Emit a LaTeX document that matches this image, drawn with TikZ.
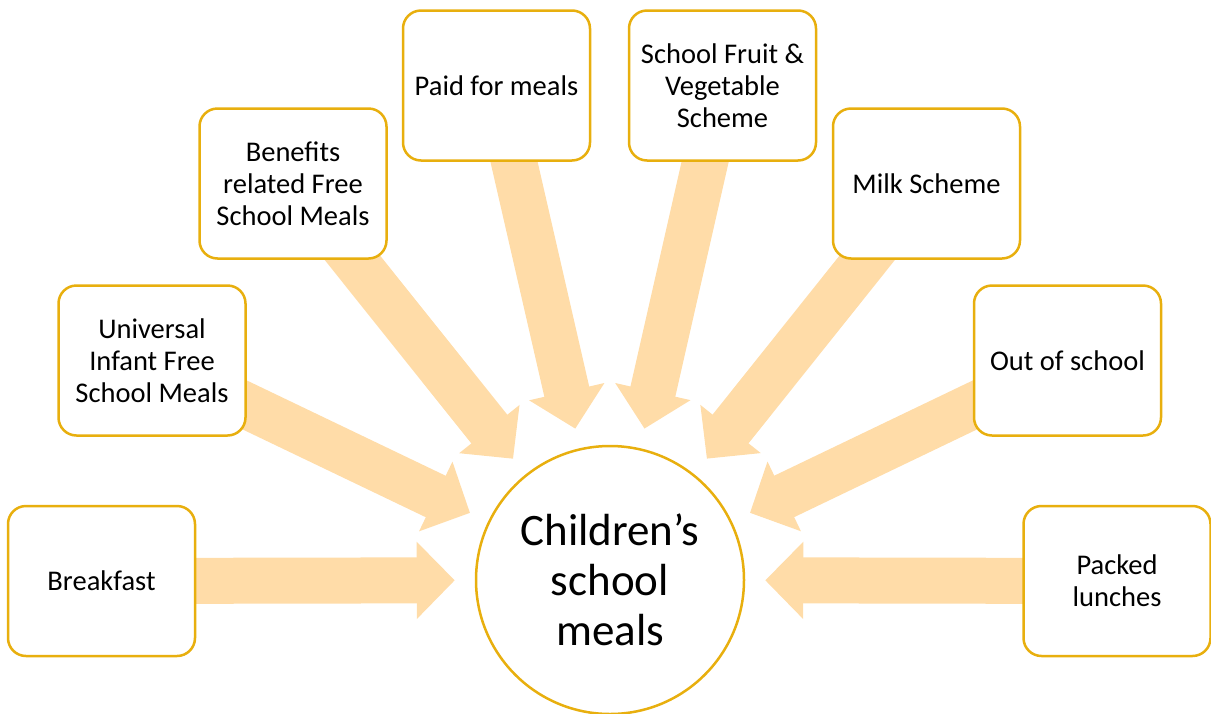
\documentclass[tikz,border=0pt]{standalone}
\usepackage{fontspec}
\setmainfont{Carlito}
\usepackage{xcolor}
\usetikzlibrary{
	positioning,						% Relative positioning
	arrows.meta,						% Block arrow heads
	backgrounds							% Arrows behind the boxes
}
\definecolor{meals-gold}{RGB}{232,175,14}
\definecolor{meals-peach}{RGB}{255,220,168}

\begin{document}
\begin{tikzpicture}[x=1pt, y=-1pt]
		\tikzstyle{source} = [draw=meals-gold, line width=2.5pt, fill=white, rounded corners=18pt, minimum width=187pt, minimum height=150pt, align=center, font=\fontsize{28.5}{32}\selectfont]
		\tikzstyle{hub} = [draw=meals-gold, line width=2.5pt, fill=white, circle, minimum size=268pt, inner sep=0pt, align=center, font=\fontsize{45}{50}\selectfont]
		\tikzstyle{feed} = [meals-peach, line width=46pt, -{Triangle[width=75pt, length=38pt]}, shorten >=20pt]
		
		\useasboundingbox (0,0) rectangle (1211,713);
		
		% Centre
		\node[hub] at (610,580) (meals) {Children’s\\school\\meals};
		
		% Sources
		\foreach \name/\x/\y/\elem in {breakfast/101.5/581/{Breakfast}, universal/152/360.5/{Universal\\Infant Free\\School Meals}, benefits/293/183.5/{Benefits\\related Free\\School Meals}, paid/496.5/85.5/{Paid for meals}, fruit/722.5/85.5/{School Fruit \&\\Vegetable\\Scheme}, milk/926.5/183.5/{Milk Scheme}, outOfSchool/1067.5/360.5/{Out of school}, packed/1117/581/{Packed\\lunches}}{
			\node[source] at (\x,\y) (\name) {\elem};
		}
		
		%% Arrows into the centre
		\begin{scope}[on background layer]
			\foreach \name in {breakfast, universal, benefits, paid, fruit, milk, outOfSchool, packed}{
				\draw[feed] (\name.center) -- (meals);
			}
		\end{scope}
	\end{tikzpicture}
\end{document}
